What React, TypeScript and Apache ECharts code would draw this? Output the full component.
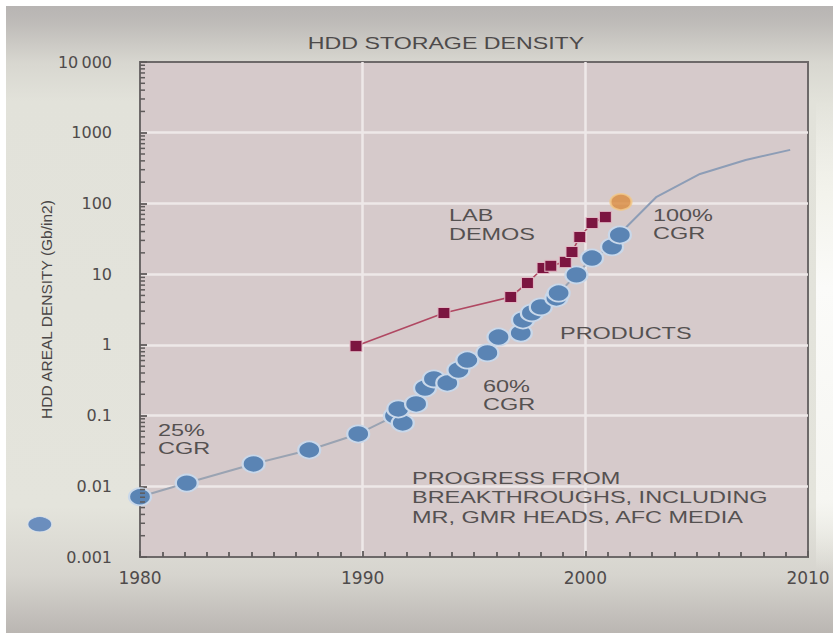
import React, { useEffect, useRef } from 'react';
import * as echarts from 'echarts';

// Axis ticks
const xTickYears = [1980, 1990, 2000, 2010];
const yTickValues = [0.001, 0.01, 0.1, 1, 10, 100, 1000, 10000];
const yTickLabels = ['0.001', '0.01', '0.1', '1', '10', '100', '1000', '10\u2009000'];
const minorMultipliers = [2, 3, 4, 5, 6, 7, 8, 9];
const minorDecades = [0.001, 0.01, 0.1, 1, 10, 100, 1000];

// Shipping products (Gb/in2)
const productYears = [
  1980.0, 1982.1, 1985.1, 1987.6, 1989.8, 1991.45, 1991.8, 1991.6, 1992.4, 1992.8,
  1993.2, 1993.8, 1994.3, 1994.7, 1995.6, 1996.1, 1997.1, 1997.2, 1997.6, 1998.0,
  1998.7, 1998.8, 1999.6, 2000.3, 2001.2, 2001.55,
];
const productDensity = [
  0.0071, 0.0111, 0.0207, 0.0326, 0.055, 0.099, 0.0785, 0.124, 0.146, 0.245,
  0.33, 0.289, 0.44, 0.61, 0.77, 1.29, 1.47, 2.25, 2.83, 3.44,
  4.6, 5.4, 9.75, 16.9, 24.3, 35.8,
];

// First disk drive, plotted left of the axis
const earlyYears = [1975.5];
const earlyDensity = [0.0029];

// Laboratory demonstrations
const labYears = [1989.7, 1993.65, 1996.65, 1997.4, 1998.1, 1998.45, 1999.1, 1999.4, 1999.75, 2000.3, 2000.9];
const labDensity = [0.96, 2.83, 4.76, 7.5, 12.2, 13.1, 14.9, 20.6, 33.6, 53, 64];

// 100 Gb/in2 milestone
const milestoneYears = [2001.6];
const milestoneDensity = [105];

// Projected product trend
const trendYears = [2001.55, 2001.8, 2003.2, 2005.15, 2007.2, 2009.2];
const trendDensity = [35.8, 45, 124, 261, 412, 572];

const pairs = (xs: number[], ys: number[]) => xs.map((x, i) => [x, ys[i]]);

const minorTickData: number[][] = [];
minorDecades.forEach((d) => minorMultipliers.forEach((m) => minorTickData.push([xTickYears[0], m * d])));

const textColor = '#555151';
const axisColor = '#5f5b5b';
const labelFont = '"Liberation Sans", Arial, sans-serif';

const note = (text: string, x: number, y: number, lineHeight = 19) => ({
  type: 'text',
  x,
  y,
  scaleX: 1.38,
  z: 50,
  silent: true,
  style: {
    text,
    fill: textColor,
    fontSize: 17,
    fontFamily: labelFont,
    lineHeight,
    textAlign: 'left',
    textVerticalAlign: 'middle',
  },
});

export default function App() {
  const ref = useRef<HTMLDivElement>(null);

  useEffect(() => {
    if (!ref.current) return;
    const chart = echarts.init(ref.current, undefined, { renderer: 'svg' });

    const option: any = {
      animation: false,
      backgroundColor: {
        type: 'linear',
        x: 0,
        y: 0,
        x2: 0,
        y2: 1,
        colorStops: [
          { offset: 0, color: '#b5b2b1' },
          { offset: 0.035, color: '#bebbb8' },
          { offset: 0.1, color: '#d8d7d0' },
          { offset: 0.16, color: '#e2e2da' },
          { offset: 0.8, color: '#e4e4dc' },
          { offset: 0.91, color: '#d6d4ce' },
          { offset: 1, color: '#bab6b2' },
        ],
      },
      graphic: [
        { type: 'rect', shape: { x: 0, y: 0, width: 833, height: 6 }, style: { fill: '#ffffff' }, silent: true },
        { type: 'rect', shape: { x: 0, y: 0, width: 6, height: 633 }, style: { fill: '#ffffff' }, silent: true },
        {
          type: 'rect',
          shape: { x: 816, y: 100, width: 17, height: 470 },
          silent: true,
          style: {
            fill: {
              type: 'linear', x: 0, y: 0, x2: 0, y2: 1,
              colorStops: [
                { offset: 0, color: 'rgba(248,248,242,0)' },
                { offset: 0.2, color: '#f3f3ec' },
                { offset: 0.4, color: '#fbfbf9' },
                { offset: 0.85, color: '#f6f6f2' },
                { offset: 1, color: 'rgba(248,248,242,0)' },
              ],
            },
          },
        },
        {
          type: 'text',
          x: 446,
          y: 43,
          scaleX: 1.45,
          silent: true,
          style: {
            text: 'HDD STORAGE DENSITY',
            fill: '#4d4a4a',
            fontSize: 16,
            fontFamily: labelFont,
            textAlign: 'center',
            textVerticalAlign: 'middle',
          },
        },
        note('LAB\nDEMOS', 449, 224),
        note('100%\nCGR', 653, 224, 18),
        note('PRODUCTS', 560, 333),
        note('60%\nCGR', 483, 395, 18),
        note('25%\nCGR', 158, 439, 18),
        note('PROGRESS FROM\nBREAKTHROUGHS, INCLUDING\nMR, GMR HEADS, AFC MEDIA', 412, 497, 19.5),
      ],
      grid: {
        left: 140,
        right: 25,
        top: 62,
        bottom: 76,
        show: true,
        backgroundColor: '#d6cacb',
        borderColor: '#6d6969',
        borderWidth: 2,
      },
      xAxis: {
        type: 'value',
        min: xTickYears[0],
        max: xTickYears[xTickYears.length - 1],
        interval: 10,
        axisLine: { show: true, lineStyle: { color: '#6d6969', width: 2 } },
        axisTick: { show: true, inside: true, length: 6, lineStyle: { color: axisColor, width: 1.8 } },
        minorTick: { show: true, splitNumber: 10, length: 5, lineStyle: { color: axisColor, width: 1.8 } },
        axisLabel: {
          margin: 12,
          color: '#4f4b4b',
          fontSize: 17,
          fontFamily: '"DejaVu Sans", sans-serif',
          formatter: (v: number) => (xTickYears.includes(v) ? String(v) : ''),
        },
        splitLine: {
          show: true,
          showMinLine: false,
          showMaxLine: false,
          lineStyle: { color: '#eee8e8', width: 2.5 },
        },
      },
      yAxis: {
        type: 'log',
        logBase: 10,
        min: yTickValues[0],
        max: yTickValues[yTickValues.length - 1],
        splitNumber: 7,
        name: 'HDD AREAL DENSITY (Gb/in2)',
        nameLocation: 'middle',
        nameRotate: 90,
        nameGap: 86,
        nameMoveOverlap: false,
        nameTextStyle: { color: '#4a4646', fontSize: 15.5, fontFamily: labelFont },
        axisLine: { show: true, lineStyle: { color: '#6d6969', width: 2 } },
        axisTick: { show: true, inside: true, length: 7, lineStyle: { color: axisColor, width: 1.8 } },
        axisLabel: {
          margin: 28,
          color: '#4f4b4b',
          fontSize: 16,
          fontFamily: '"DejaVu Sans", sans-serif',
          formatter: (v: number) => {
            const i = yTickValues.findIndex((t) => Math.abs(Math.log10(t) - Math.log10(v)) < 1e-6);
            return i >= 0 ? yTickLabels[i] : '';
          },
        },
        splitLine: {
          show: true,
          showMinLine: false,
          showMaxLine: false,
          lineStyle: { color: '#eee8e8', width: 2.5 },
        },
      },
      series: [
        {
          // logarithmic minor ticks along the left axis
          type: 'custom',
          silent: true,
          clip: false,
          z: 6,
          data: minorTickData,
          renderItem: (_params: any, api: any) => {
            const p = api.coord([api.value(0), api.value(1)]);
            return {
              type: 'line',
              shape: { x1: p[0], y1: p[1], x2: p[0] + 5, y2: p[1] },
              style: { stroke: axisColor, lineWidth: 1.5 },
            };
          },
        },
        {
          name: 'Trend',
          type: 'line',
          data: pairs(trendYears, trendDensity),
          showSymbol: false,
          symbol: 'none',
          z: 2,
          lineStyle: { color: '#8d9db6', width: 2 },
        },
        {
          name: 'Products',
          type: 'line',
          data: pairs(productYears, productDensity),
          symbol: 'circle',
          symbolSize: [22, 17],
          z: 3,
          lineStyle: { color: '#9aa3b2', width: 2 },
          itemStyle: { color: '#5a84b4', borderColor: '#c9d8ea', borderWidth: 2 },
        },
        {
          name: 'Early product',
          type: 'scatter',
          clip: false,
          data: pairs(earlyYears, earlyDensity),
          symbol: 'circle',
          symbolSize: [24, 15],
          z: 3,
          itemStyle: { color: '#4d79b6', borderColor: '#dbe5f0', borderWidth: 1 },
        },
        {
          name: 'Lab demos',
          type: 'line',
          data: pairs(labYears, labDensity),
          symbol: 'rect',
          symbolSize: [12, 11],
          z: 4,
          lineStyle: { color: '#b04862', width: 1.6 },
          itemStyle: { color: '#7c1540', borderColor: '#e2b8c4', borderWidth: 1 },
        },
        {
          name: 'Milestone',
          type: 'scatter',
          data: pairs(milestoneYears, milestoneDensity),
          symbol: 'circle',
          symbolSize: [21, 16],
          z: 5,
          itemStyle: { color: '#d98a3c', borderColor: '#f2c888', borderWidth: 2 },
        },
      ],
    };

    chart.setOption(option);
    return () => chart.dispose();
  }, []);

  return <div ref={ref} style={{ position: 'fixed', left: 0, top: 0, width: 833, height: 633 }} />;
}
